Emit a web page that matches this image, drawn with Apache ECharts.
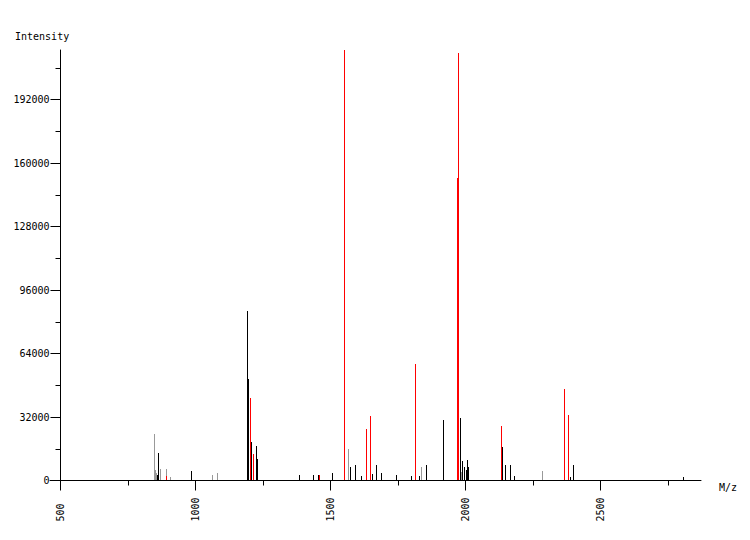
<!DOCTYPE html>
<html>
<head>
<meta charset="utf-8">
<script src="https://cdn.jsdelivr.net/npm/echarts@6/dist/echarts.min.js"></script>
<style>html,body{margin:0;padding:0;background:#fff}#c{width:750px;height:540px}</style>
</head>
<body>
<div id="c"></div>
<script>
// ---- data (m/z, intensity) ----
const blackMz  = [859.3, 863.0, 985.2, 1192.6, 1196.3, 1207.4, 1225.9, 1229.6, 1385.2, 1437.0, 1455.6, 1507.4, 1574.1, 1592.6, 1614.8, 1655.6, 1670.4, 1688.9, 1744.4, 1800.0, 1829.6, 1855.6, 1918.5, 1981.5, 1988.9, 1996.3, 2003.7, 2007.4, 2011.1, 2137.0, 2148.1, 2166.7, 2181.5, 2388.9, 2400.0, 2807.4];
const blackInt = [2520, 13608, 4536, 85176, 50904, 19152, 17136, 10584, 2520, 2520, 2520, 3528, 6552, 7560, 2016, 3024, 7560, 3528, 2520, 2016, 2016, 7560, 30240, 31248, 9576, 6552, 5040, 10080, 6552, 16632, 7560, 7560, 2016, 1512, 7560, 1512];
const grayMz   = [848.1, 851.9, 855.6, 870.4, 892.6, 907.4, 1063.0, 1081.5, 1566.7, 1837.0, 1985.2, 2285.2];
const grayInt  = [23184, 5040, 3528, 5544, 5544, 1512, 2520, 3528, 15624, 6552, 4032, 4536];
const redMz    = [892.6, 1203.7, 1214.8, 1459.3, 1551.9, 1633.3, 1648.1, 1814.8, 1970.4, 1974.1, 2133.3, 2366.7, 2381.5];
const redInt   = [2016, 41328, 13104, 2520, 216720, 25704, 32256, 58464, 152208, 215208, 27216, 45864, 32760];

const xLabelValues = [500, 1000, 1500, 2000, 2500];
const xMinorTicks  = [750, 1250, 1750, 2250, 2750];
const yLabelValues = [0, 32000, 64000, 96000, 128000, 160000, 192000];
const yMinorTicks  = [16000, 48000, 80000, 112000, 144000, 176000, 208000];

const X_MIN = 461.1, X_MAX = 2872.2, Y_MAX = 216946;

function pairs(xs, ys) { return xs.map((x, i) => [x, ys[i]]); }

function stickSeries(name, xs, ys, color) {
  return {
    type: 'custom', name: name, xAxisIndex: 0, yAxisIndex: 0,
    data: pairs(xs, ys),
    renderItem: function (params, api) {
      const p = api.coord([api.value(0), api.value(1)]);
      const b = api.coord([api.value(0), 0]);
      const x = Math.floor(p[0]);
      const top = Math.floor(p[1]);
      const bottom = Math.floor(b[1]);
      return { type: 'rect', shape: { x: x, y: top, width: 1, height: Math.max(1, bottom - top) },
               style: { fill: color } };
    }
  };
}

const font = 'DejaVu Sans Mono';
const plain = v => String(v);
const chart = echarts.init(document.getElementById('c'), null, { renderer: 'svg' });
chart.setOption({
  animation: false,
  backgroundColor: '#fff',
  grid: { left: 50, top: 50, width: 651, height: 430.5, containLabel: false },
  xAxis: [
    {
      type: 'value', min: X_MIN, max: X_MAX, position: 'bottom',
      axisLine: { show: true, lineStyle: { color: '#000', width: 1 } },
      axisTick: { show: true, length: 10, customValues: xLabelValues, lineStyle: { color: '#000' } },
      axisLabel: { show: true, customValues: xLabelValues, formatter: plain, rotate: 90, align: 'left', verticalAlign: 'middle',
                   margin: 41, color: '#000', fontFamily: font, fontSize: 10 },
      splitLine: { show: false }
    },
    {
      type: 'value', min: X_MIN, max: X_MAX, position: 'bottom',
      axisLine: { show: false },
      axisTick: { show: true, length: 5, customValues: xMinorTicks, lineStyle: { color: '#000' } },
      axisLabel: { show: false },
      splitLine: { show: false }
    }
  ],
  yAxis: [
    {
      type: 'value', min: 0, max: Y_MAX, position: 'left', offset: -10.5,
      axisLine: { show: true, lineStyle: { color: '#000', width: 1 } },
      axisTick: { show: true, length: 10, customValues: yLabelValues, lineStyle: { color: '#000' } },
      axisLabel: { show: true, customValues: yLabelValues, formatter: plain, margin: 11, color: '#000', fontFamily: font, fontSize: 10 },
      splitLine: { show: false }
    },
    {
      type: 'value', min: 0, max: Y_MAX, position: 'left', offset: -10.5,
      axisLine: { show: false },
      axisTick: { show: true, length: 5, customValues: yMinorTicks, lineStyle: { color: '#000' } },
      axisLabel: { show: false },
      splitLine: { show: false }
    }
  ],
  graphic: [
    { type: 'text', left: 15, top: 31, style: { text: 'Intensity', fill: '#000', font: '10px "DejaVu Sans Mono"' } },
    { type: 'text', left: 719, top: 482, style: { text: 'M/z', fill: '#000', font: '10px "DejaVu Sans Mono"' } }
  ],
  series: [
    stickSeries('gray', grayMz, grayInt, '#999999'),
    stickSeries('black', blackMz, blackInt, '#000000'),
    stickSeries('red', redMz, redInt, '#ff0000')
  ]
});
</script>
</body>
</html>
